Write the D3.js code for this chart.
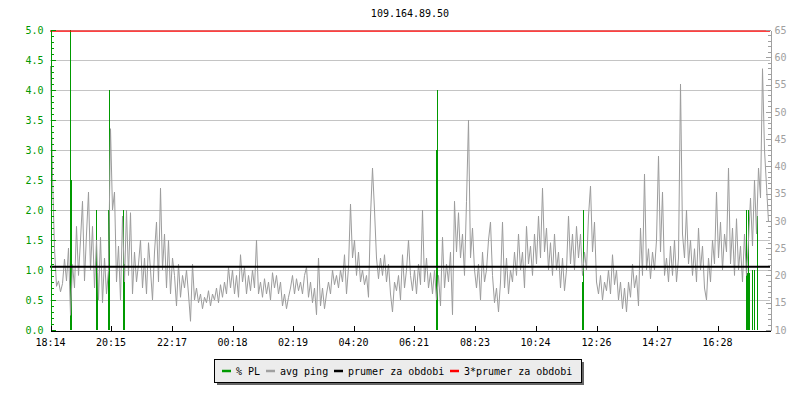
<!DOCTYPE html>
<html><head><meta charset="utf-8">
<script src="https://cdn.jsdelivr.net/npm/d3@7/dist/d3.min.js"></script>
<style>
body{margin:0;background:#fff}
text{font-family:"DejaVu Sans Mono",monospace;font-size:10px}
</style>
</head><body>
<svg id="c" width="800" height="400"></svg>
<script>
const title = "109.164.89.50";
const xTickLabels = ["18:14","20:15","22:17","00:18","02:19","04:20","06:21","08:23","10:24","12:26","14:27","16:28"];
const pingStepMin = 4;
const pingMs = [
58.4,38,25,18,19,17,18.5,23,19,25,
12.7,22,17.7,29,20,26.5,33.6,19,27.6,35.3,
21,29,17.7,26.5,15.5,27,15,23.2,16.6,21,
46.9,32,35.3,18.8,25.4,15.5,30.9,18.8,32,20,
31.5,16.6,24.3,18.8,22.1,26.5,17.7,23.2,16.6,26,
21,15.5,24.3,29.8,18.8,36,21,27.6,17.7,26.5,
16.6,23.2,20,14.4,22.1,16,20,17.7,21,16.6,
11.6,22.1,15.5,17.7,15,16.6,13.9,16,15,17.2,
14.4,16.6,15.5,17.7,15,18.3,16,18.8,16.6,21.5,
17.7,21,16.6,20,16,23.8,18.8,21.5,16.6,20,
17.2,21,17.7,26.5,16.6,18.8,16,19.4,16.6,18.8,
15.5,20.5,17.7,20,16.6,18.8,14.4,16.6,13.9,16,
17.7,20,16.6,19.4,17.2,18.8,16.6,20,21.5,16,
18.8,15,17.7,12.8,23.2,14.4,17.7,13.9,16.6,18.8,
16.6,21,18.3,20,17.7,21,18.8,23.8,16.6,21.5,
33.1,23.2,26.5,20,24.3,18.8,21,18.3,20,16,
30.9,39.7,32,23.2,19.4,23.2,20,23.8,18.8,22.1,
16.6,13.3,18.8,17.2,20,15.5,23.8,17.7,21,26.5,
20,17.2,21,16.6,22.1,18.3,32,18.8,23.2,17.7,
20.5,16.6,21,15.5,20,14.4,27,17.7,22.1,18.8,
24.3,12.8,33.6,24.3,31.5,23.2,27.6,20,33.6,48.5,
23.2,28.7,21,17.7,22.1,15.5,24.3,18.8,21,26.5,
29.8,20,15,17.7,13.3,18.8,29.8,17.7,23.2,16.6,
21,18.8,24.3,20,27.6,21,24.3,17.7,29,22.1,
25.4,20,27.6,22.1,30.9,23.2,36,24.3,28.7,21,
26,20,27.6,21,24.3,17.7,23.2,17.2,21,30.9,
22.1,27.6,21,29,23.2,27.6,20,24.3,21,30.9,
36.4,24.3,29.8,18.8,16.6,20,15.5,18.8,17.2,21,
16.6,23.8,18.3,21,15.5,18.8,13.9,17.7,13.3,18.8,
16,22.1,17.7,20,14.4,28.7,20,38.6,21,24.9,
19.4,24.3,21,26.5,41.9,24.3,35.3,20,23.2,18.8,
25.4,20,26.5,18.8,23.2,55.1,27.6,23.2,32,22.1,
26.5,20,24.9,18.8,28.7,21,25.4,17.7,15.5,23.2,
18.8,26.5,22.1,35.3,23.2,29.8,21,27.6,24.3,39.7,
22.1,28.7,20,30.4,21,25.4,18.8,27.6,20,26.5,
34.2,25.4,37.5,27.6,39.7,34.2,57.9,43,36.4,29.8
];
const plMinutes = [40,42,92,94,116,118,146,148,772,774,1064,1066,1392,1394,1396,1398,1404,1410,1414];
const plPercent = [5.0,2.5,2.0,0.95,2.0,4.0,2.0,1.1,3.0,4.0,0.8,2.0,2.0,0.95,2.0,0.95,1.0,1.0,1.9];
const prumer = 21.6;
const legendLabels = ["% PL","avg ping","prumer za obdobi","3*prumer za obdobi"];
const legendColors = ["#009900","#a0a0a0","#000000","#ff0000"];
const plDomain = [0, 5];
const pingDomain = [10, 65];
const spanMinutes = 1440;

const svg = d3.select("#c");
const M = {l:50, r:770, t:30, b:330};
const x = d3.scaleLinear().domain([0, spanMinutes]).range([M.l, M.r]);
const yL = d3.scaleLinear().domain(plDomain).range([M.b, M.t]);
const yR = d3.scaleLinear().domain(pingDomain).range([M.b, M.t]);

// title
svg.append("text").attr("x", (M.l+M.r)/2).attr("y", 17).attr("text-anchor","middle").attr("fill","#000").text(title);

// gridlines
svg.append("g").selectAll("line").data(d3.range(0.5, 5.01, 0.5)).join("line")
  .attr("x1", M.l).attr("x2", M.r)
  .attr("y1", d => Math.round(yL(d)) + 0.5).attr("y2", d => Math.round(yL(d)) + 0.5)
  .attr("stroke", "#c4c4c4").attr("stroke-width", 1).attr("shape-rendering","crispEdges");

// packet loss lines
svg.append("g").selectAll("line").data(plMinutes).join("line")
  .attr("x1", d => Math.floor(x(d)) + 0.5).attr("x2", d => Math.floor(x(d)) + 0.5)
  .attr("y1", yL(0)).attr("y2", (d,i) => yL(plPercent[i]))
  .attr("stroke", "#009900").attr("stroke-width", 1.2).attr("shape-rendering","crispEdges");

// ping line
const line = d3.line().x((d,i) => x(i*pingStepMin) + 0.5).y(d => yR(d));
svg.append("path").datum(pingMs).attr("d", line)
  .attr("fill","none").attr("stroke","#9c9c9c").attr("stroke-width",1);

// average and 3x average
svg.append("line").attr("x1", M.l).attr("x2", M.r).attr("y1", yR(prumer)).attr("y2", yR(prumer))
  .attr("stroke","#000").attr("stroke-width",2.2);
svg.append("line").attr("x1", M.l).attr("x2", M.r).attr("y1", yR(3*prumer)).attr("y2", yR(3*prumer))
  .attr("stroke","#ff0000").attr("stroke-width",1.4);

// left axis (green)
const gL = svg.append("g").attr("transform", `translate(${M.l+0.5},0)`);
gL.call(d3.axisLeft(yL).tickValues(d3.range(0, 5.01, 0.1)).tickFormat("").tickSizeInner(-3).tickSizeOuter(0));
const gL2 = svg.append("g").attr("transform", `translate(${M.l+0.5},0)`);
gL2.call(d3.axisLeft(yL).tickValues(d3.range(0, 5.01, 0.5)).tickFormat(d3.format(".1f")).tickSizeInner(-5).tickSizeOuter(0).tickPadding(7));
[gL, gL2].forEach(g => {
  g.selectAll("path,line").attr("stroke","#009900").attr("shape-rendering","crispEdges");
  g.selectAll("text").attr("fill","#009900").style("font-family",'"DejaVu Sans Mono",monospace').style("font-size","10px");
});

// right axis (grey)
const gR = svg.append("g").attr("transform", `translate(${M.r+0.5},0)`);
gR.call(d3.axisRight(yR).tickValues(d3.range(10, 65.01, 1)).tickFormat("").tickSizeInner(-3).tickSizeOuter(0));
const gR2 = svg.append("g").attr("transform", `translate(${M.r+0.5},0)`);
gR2.call(d3.axisRight(yR).tickValues(d3.range(10, 65.01, 5)).tickFormat(d3.format("d")).tickSizeInner(-5).tickSizeOuter(0).tickPadding(4));
[gR, gR2].forEach(g => {
  g.selectAll("path,line").attr("stroke","#a0a0a0").attr("shape-rendering","crispEdges");
  g.selectAll("text").attr("fill","#a0a0a0").style("font-family",'"DejaVu Sans Mono",monospace').style("font-size","10px");
});

// bottom axis
const startH = +xTickLabels[0].slice(0,2), startM = +xTickLabels[0].slice(3);
const tickMin = xTickLabels.map(s => {
  let m = (+s.slice(0,2))*60 + (+s.slice(3)) - (startH*60 + startM);
  if (m < 0) m += 1440;
  return m;
});
const gB = svg.append("g").attr("transform", `translate(0,${M.b+0.5})`);
gB.call(d3.axisBottom(x).tickValues(tickMin).tickFormat((d,i) => xTickLabels[i]).tickSizeInner(-5).tickSizeOuter(0).tickPadding(8));
gB.selectAll("path,line").attr("stroke","#000").attr("shape-rendering","crispEdges");
gB.selectAll("text").attr("fill","#000").style("font-family",'"DejaVu Sans Mono",monospace').style("font-size","10px");
gB.selectAll(".tick line").attr("transform","translate(0.5,0)");

// legend
const lg = svg.append("g");
let cx = 222;
const items = [];
legendLabels.forEach((lab, i) => {
  items.push({lab, col: legendColors[i], sx: cx, tx: cx + 14});
  cx = cx + 14 + lab.length * 6 + 6;
});
const boxL = 214, boxR = items[items.length-1].tx + legendLabels[legendLabels.length-1].length*6 + 9;
lg.append("rect").attr("x", boxL+3).attr("y", 362).attr("width", boxR-boxL).attr("height", 23).attr("fill","#666");
lg.append("rect").attr("x", boxL+0.5).attr("y", 359.5).attr("width", boxR-boxL).attr("height", 23)
  .attr("fill","#ececec").attr("stroke","#000").attr("stroke-width",1).attr("shape-rendering","crispEdges");
items.forEach(it => {
  lg.append("line").attr("x1", it.sx).attr("x2", it.sx+9).attr("y1", 371).attr("y2", 371)
    .attr("stroke", it.col).attr("stroke-width", 2.5);
  lg.append("text").attr("x", it.tx).attr("y", 374.5).attr("fill","#000").text(it.lab);
});
</script>
</body></html>
